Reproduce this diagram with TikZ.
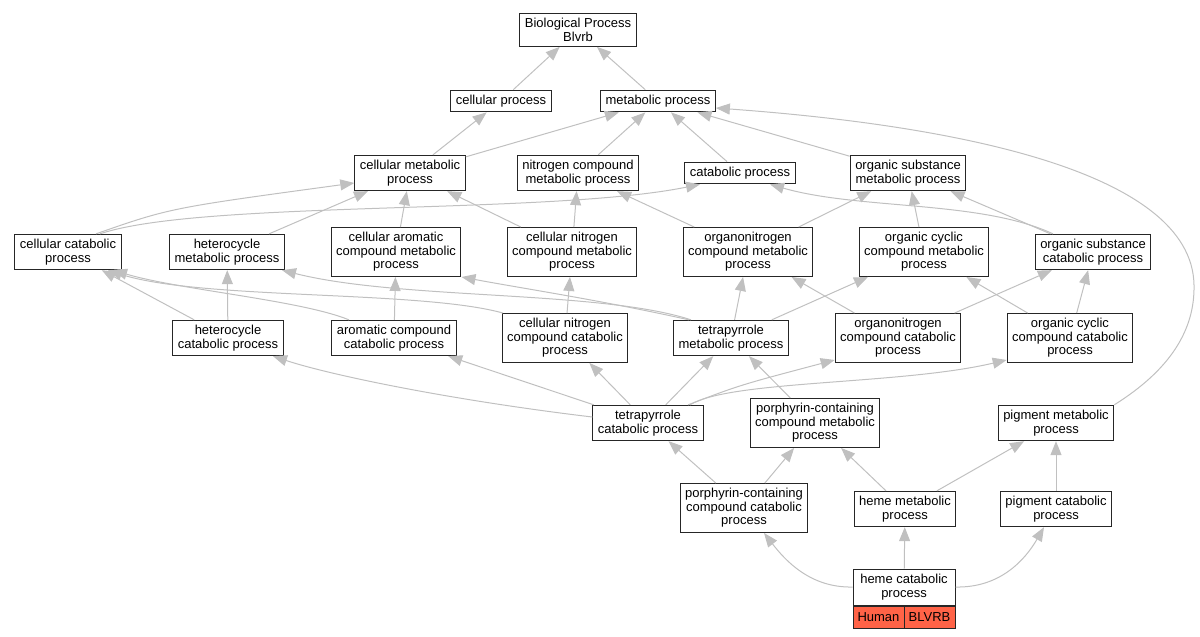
\documentclass[tikz,border=0pt]{standalone}
\usepackage{fontspec}
\setmainfont{Liberation Sans}
\usepackage{xcolor}
\usetikzlibrary{arrows.meta,calc}
\definecolor{gristrait}{RGB}{192,192,192}
\definecolor{rougegene}{RGB}{255,99,71}
\tikzset{
	boite/.style={draw=black!85,line width=1pt,fill=white,align=center,inner xsep=5pt,inner ysep=4.8pt,font=\fontsize{13}{13.6}\selectfont},
	fleche/.style={draw=gristrait,line width=1pt,-{Triangle[length=14pt,width=11pt,fill=gristrait]}},
	cellule/.style={boite,fill=rougegene,minimum width=51pt,minimum height=22pt,inner sep=0pt}
}
\begin{document}
\begin{tikzpicture}[x=1pt,y=-1pt]
	\useasboundingbox (0,0) rectangle (1200,637);
	\foreach \coordonnees/\nom/\texte in
	{{(578,30)}/bp/{Biological Process\\Blvrb},
	{(501,101)}/cp/{cellular process},
	{(658,101)}/mp/{metabolic process},
	{(410,173)}/cmp/{cellular metabolic\\process},
	{(578,173)}/ncmp/{nitrogen compound\\metabolic process},
	{(740,173)}/catp/{catabolic process},
	{(908,173)}/osmp/{organic substance\\metabolic process},
	{(68,252)}/ccp/{cellular catabolic\\process},
	{(227,252)}/hmp/{heterocycle\\metabolic process},
	{(396,252)}/camp/{cellular aromatic\\compound metabolic\\process},
	{(572,252)}/cnmp/{cellular nitrogen\\compound metabolic\\process},
	{(748,252)}/onmp/{organonitrogen\\compound metabolic\\process},
	{(924,252)}/occmp/{organic cyclic\\compound metabolic\\process},
	{(1093,252)}/oscp/{organic substance\\catabolic process},
	{(228,338)}/hcp/{heterocycle\\catabolic process},
	{(394,338)}/acp/{aromatic compound\\catabolic process},
	{(565,338)}/cncp/{cellular nitrogen\\compound catabolic\\process},
	{(731,338)}/tmp/{tetrapyrrole\\metabolic process},
	{(898,338)}/oncp/{organonitrogen\\compound catabolic\\process},
	{(1070,338)}/occp/{organic cyclic\\compound catabolic\\process},
	{(648,423)}/tcp/{tetrapyrrole\\catabolic process},
	{(815,423)}/pcmp/{porphyrin-containing\\compound metabolic\\process},
	{(1056,423)}/pigmp/{pigment metabolic\\process},
	{(744,508)}/pccp/{porphyrin-containing\\compound catabolic\\process},
	{(905,509)}/hemp/{heme metabolic\\process},
	{(1056,509)}/pigcp/{pigment catabolic\\process}}
		{\node[boite] (\nom) at \coordonnees {\texte};}
	\node[boite,minimum width=102pt,minimum height=36pt] (hcat) at (904,587) {heme catabolic\\process};
	\node[cellule,anchor=north west] (human) at (hcat.south west) {Human};
	\node[cellule,anchor=north east] (blvrb) at (hcat.south east) {BLVRB};
	\foreach \enfant/\parent in
	{cp/bp, mp/bp, cmp/cp, cmp/mp, ncmp/mp, catp/mp, osmp/mp,
	hmp/cmp, camp/cmp, cnmp/cmp, cnmp/ncmp, onmp/ncmp, onmp/osmp, occmp/osmp, oscp/osmp,
	hcp/ccp, hcp/hmp, acp/camp, cncp/cnmp, tmp/onmp, tmp/occmp,
	oncp/onmp, oncp/oscp, occp/occmp, occp/oscp,
	tcp/cncp, tcp/tmp, tcp/acp, pcmp/tmp, pccp/tcp, pccp/pcmp,
	hemp/pcmp, hemp/pigmp, pigcp/pigmp, hcat/hemp}
		{\draw[fleche] (\enfant) -- (\parent);}
	\draw[fleche] ([xshift=28pt]ccp.north) .. controls (170,208) .. ([yshift=-10pt]cmp.west);
	\draw[fleche] ([xshift=32pt]ccp.north) .. controls (200,200) and (550,215) .. ([xshift=-40pt]catp.south);
	\draw[fleche] ([xshift=-40pt]oscp.north) .. controls (980,200) and (860,210) .. ([xshift=30pt]catp.south);
	\draw[fleche] ([xshift=-40pt]tmp.north) .. controls (600,290) and (400,300) .. ([xshift=55pt]hmp.south);
	\draw[fleche] ([xshift=-42pt]tmp.north) .. controls (600,300) and (520,288) .. (camp.south east);
	\draw[fleche] ([xshift=-62pt]cncp.north) .. controls (420,290) and (200,300) .. ([xshift=40pt]ccp.south);
	\draw[fleche] ([xshift=-45pt]acp.north) .. controls (300,300) and (180,290) .. ([xshift=45pt]ccp.south);
	\draw[fleche] ([yshift=6pt]tcp.west) .. controls (450,400) and (330,375) .. ([xshift=45pt]hcp.south);
	\draw[fleche] ([xshift=40pt]tcp.north) .. controls (740,385) .. ([yshift=3pt]oncp.south west);
	\draw[fleche] ([xshift=42pt]tcp.north) .. controls (730,380) and (900,385) .. ([yshift=3pt]occp.south west);
	\draw[fleche] (pigmp.north east) .. controls (1170,370) and (1195,330) .. (1194,285)
		.. controls (1192,170) and (950,125) .. ([yshift=-7pt]mp.east);
	\draw[fleche] (hcat.west) .. controls (810,588) and (785,560) .. ([xshift=20pt]pccp.south);
	\draw[fleche] (hcat.east) .. controls (1000,588) and (1025,560) .. ([xshift=-12pt]pigcp.south);
\end{tikzpicture}
\end{document}
